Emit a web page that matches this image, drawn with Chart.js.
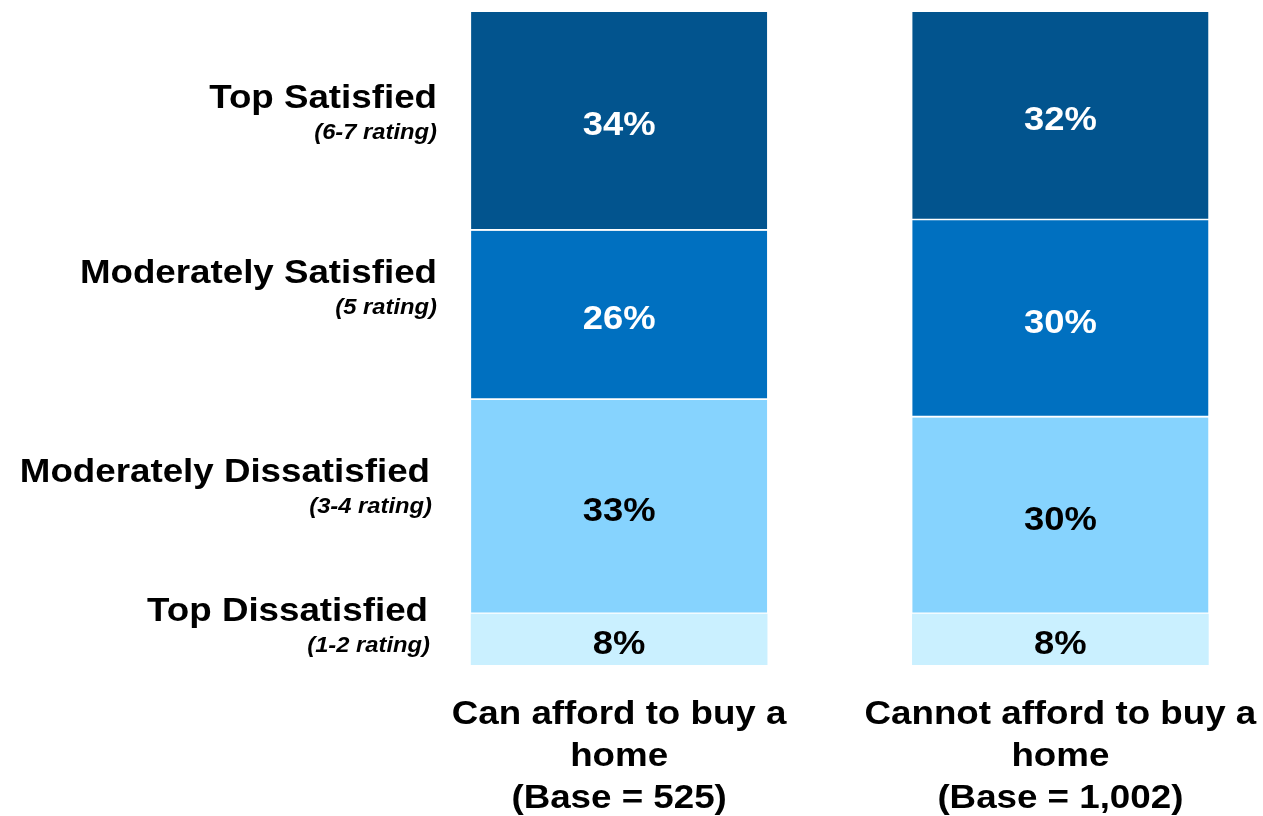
<!DOCTYPE html>
<html>
<head>
<meta charset="utf-8">
<script src="https://cdn.jsdelivr.net/npm/chart.js@4"></script>
<style>
	html, body { margin: 0; padding: 0; background: #fff; overflow: hidden; }
	#wrap { width: 1281px; height: 816px; }
</style>
</head>
<body>
<div id="wrap"><canvas id="chart" width="1281" height="816"></canvas></div>
<script>
// Data (segments listed top to bottom, as in the picture)
// ================================================================================
let rating_names = ["Top Satisfied", "Moderately Satisfied", "Moderately Dissatisfied", "Top Dissatisfied"];
let rating_scales = ["(6-7 rating)", "(5 rating)", "(3-4 rating)", "(1-2 rating)"];
let group_labels = [
	["Can afford to buy a", "home", "(Base = 525)"],
	["Cannot afford to buy a", "home", "(Base = 1,002)"]
];
let can_afford = [33.5, 25.9, 32.8, 7.8];
let cannot_afford = [31.9, 30.2, 30.1, 7.8];

let fill_colors = ["#02548E", "#0070C0", "#86D3FE", "#CAF0FF"];
let text_colors = ["#FFFFFF", "#FFFFFF", "#000000", "#000000"];

// Side label placement: baseline shift from the left bar's segment middle, and right edge
let side_title_shift = [-13, -32, -25, -19];
let side_sub_shift = [18, -1, 6, 12];
let side_title_right = [437, 437, 430, 428];
let side_sub_right = [437, 437, 432, 430];

// the source text is set a little wide, so it gets a horizontal stretch
const FONT = '"Liberation Sans", Arial, sans-serif';
const STRETCH = 1.08;
Chart.defaults.font.family = FONT;

let last = rating_names.length - 1;

// Chart.js stacks dataset 0 at the bottom, so build the list bottom-up
let datasets = rating_names.map((name, i) => ({
	label: name,
	data: [can_afford[i], cannot_afford[i]],
	backgroundColor: fill_colors[i],
	borderColor: "#FFFFFF",
	borderSkipped: false,
	// white separator under every segment except the lowest one
	borderWidth: i === last ? 0 : {top: 0, bottom: 2, left: 0, right: 0},
	barThickness: 296,
	text_color: text_colors[i]
})).reverse();

// Helpers
// ================================================================================
function wide_text(ctx, text, x, y, align, sx) {
	ctx.save();
	ctx.translate(x, y);
	ctx.scale(sx, 1);
	ctx.textAlign = align;
	ctx.textBaseline = "alphabetic";
	ctx.fillText(text, 0, 0);
	ctx.restore();
}

let segment_labels = {
	id: "segmentLabels",
	afterDatasetsDraw(chart) {
		let ctx = chart.ctx;
		ctx.save();
		ctx.font = "bold 34px " + FONT;
		chart.data.datasets.forEach((ds, di) => {
			chart.getDatasetMeta(di).data.forEach((bar, i) => {
				ctx.fillStyle = ds.text_color;
				wide_text(ctx, Math.round(ds.data[i]) + "%", bar.x, (bar.y + bar.base) / 2 + 14, "center", 1.07);
			});
		});
		ctx.restore();
	}
};

let side_labels = {
	id: "sideLabels",
	afterDatasetsDraw(chart) {
		let ctx = chart.ctx;
		ctx.save();
		ctx.fillStyle = "#000000";
		rating_names.forEach((name, i) => {
			// dataset index is reversed against the name order
			let bar = chart.getDatasetMeta(last - i).data[0];
			let mid = (bar.y + bar.base) / 2;
			ctx.font = "bold 34px " + FONT;
			wide_text(ctx, name, side_title_right[i], mid + side_title_shift[i], "right", STRETCH);
			ctx.font = "italic bold 22px " + FONT;
			wide_text(ctx, rating_scales[i], side_sub_right[i], mid + side_sub_shift[i], "right", STRETCH);
		});
		ctx.restore();
	}
};

// category labels under the bars, drawn at the x scale's own positions
let group_label_draw = {
	id: "groupLabels",
	afterDraw(chart) {
		let ctx = chart.ctx;
		let xs = chart.scales.x;
		ctx.save();
		ctx.fillStyle = "#000000";
		ctx.font = "bold 34px " + FONT;
		chart.data.labels.forEach((lines, i) => {
			let x = xs.getPixelForValue(i);
			lines.forEach((line, j) => {
				wide_text(ctx, line, x, xs.top + 59 + j * 42, "center", STRETCH);
			});
		});
		ctx.restore();
	}
};

new Chart(document.getElementById("chart"), {
	type: "bar",
	data: {
		labels: group_labels,
		datasets: datasets
	},
	options: {
		responsive: false,
		animation: false,
		layout: {padding: {left: 398.5, right: 0, top: 12, bottom: 0}},
		plugins: {
			legend: {display: false},
			tooltip: {enabled: false}
		},
		scales: {
			x: {
				stacked: true,
				grid: {display: false, drawTicks: false},
				border: {display: false},
				ticks: {display: false},
				afterFit: (scale) => { scale.height = 151; }
			},
			y: {
				stacked: true,
				display: false,
				min: 0,
				max: 100
			}
		}
	},
	plugins: [segment_labels, side_labels, group_label_draw]
});
</script>
</body>
</html>
